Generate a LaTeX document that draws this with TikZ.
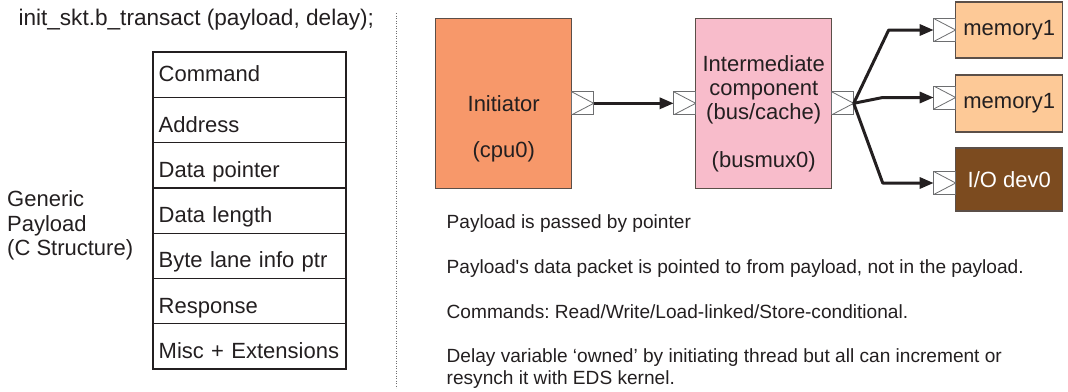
\documentclass[tikz,border=0pt]{standalone}
\usepackage{fontspec}
\setmainfont{Liberation Sans}[Ligatures=TeXOff]
\usetikzlibrary{arrows.meta,positioning,calc}
\definecolor{PLInk}{HTML}{231F20}
\definecolor{PLCpu}{HTML}{F7986A}
\definecolor{PLBus}{HTML}{F8BCCB}
\definecolor{PLMem}{HTML}{FDC997}
\definecolor{PLDev}{HTML}{7C4B1F}
\definecolor{PLEdge}{HTML}{5B4F48}
\definecolor{PLPort}{HTML}{6D6E70}
\newcommand\pltxt{\fontsize{22}{24.4}\selectfont}
\newcommand\plnote{\fontsize{19.1}{21.4}\selectfont}
\frenchspacing

\begin{document}
\begin{tikzpicture}[
  x=1pt,y=-1pt,
  every node/.style={text=PLInk,font=\pltxt},
  field/.style={draw=PLInk,line width=1.2pt,minimum width=193pt,minimum height=45.24pt,text width=181pt,inner xsep=6pt,inner ysep=0pt,outer sep=0pt,align=left,anchor=west,text depth=0pt},
  blk/.style={draw=PLEdge,line width=1.2pt,inner sep=0pt,outer sep=0pt,align=center},
  blklbl/.style={align=center,inner sep=0pt},
  port/.style={draw=PLPort,fill=white,line width=1pt,minimum width=22pt,minimum height=23pt,inner sep=0pt,outer sep=0pt,
    path picture={\draw[PLPort,line width=0.8pt] (path picture bounding box.north west) -- (path picture bounding box.east) -- (path picture bounding box.south west);}},
  arr/.style={-{Triangle[length=14pt,width=11pt]},line width=3pt,draw=PLInk,line join=round},
  note/.style={font=\plnote,anchor=base west,inner sep=0pt,align=left}
]
\useasboundingbox (0,0) rectangle (1068,391);

% left half: the payload structure
\node[anchor=base west,inner sep=0pt,font=\fontsize{22.6}{25}\selectfont] (call) at (18.3,25.5) {init\_skt.b\_transact (payload, delay);};
\foreach \txt/\th [count=\i] in {Command/12.4,Address/24.2,Data pointer/24.2,Data length/24.2,Byte lane info ptr/24.2,Response/24.2,Misc + Extensions/24.2}
  \node[field,text height=\th pt] (fld\i) at (152.7,{52.3+45.24*(\i-0.5)}) {\txt};
\draw[PLInk,line width=2pt] (fld1.north west) rectangle (fld7.south east);
\node[anchor=west,inner sep=0pt,align=left] (gp) at (7,225.6) {Generic\\Payload\\(C Structure)};

% separator
\coordinate (sepTop) at (396.7,13);
\coordinate (sepBot) at (396.7,388);
\draw[PLPort,line width=0.9pt,dash pattern=on 0.9pt off 1.6pt] (sepTop) -- (sepBot);

% right half: the components
\node[blk,fill=PLCpu,minimum width=136pt,minimum height=170pt,label={[blklbl,yshift=-49pt]center:(cpu0)}] (cpu) at (503.7,103.3) {Initiator};
\node[port,anchor=west] (cpuout) at (cpu.east) {};
\node[blk,fill=PLBus,minimum width=136pt,minimum height=170pt,
  label={[blklbl,yshift=13.5pt]center:Intermediate\\component\\(bus/cache)},
  label={[blklbl,yshift=-58.4pt]center:(busmux0)}] (bus) at (763.7,103.3) {};
\node[port,anchor=east] (busin) at (bus.west) {};
\node[port,anchor=west] (busout) at (bus.east) {};
\node[blk,fill=PLMem,minimum width=107pt,minimum height=56pt] (mem0) at (1009.2,30) {memory1};
\node[blk,fill=PLMem,minimum width=107pt,minimum height=57pt] (mem1) at (1009.2,103.5) {memory1};
\node[blk,fill=PLDev,minimum width=107pt,minimum height=63pt,text=white] (iodev) at (1009.2,179.5) {I/O dev0};
\node[port,anchor=east] (mem0in) at (mem0.west) {};
\node[port,anchor=east] (mem1in) at ([yshift=6pt]mem1.west) {};
\node[port,anchor=east] (iodevin) at ([yshift=-3.5pt]iodev.west) {};

\coordinate (fan0) at ([xshift=-45pt]mem0in.west);
\coordinate (fan1) at ([xshift=-51pt]mem1in.west);
\coordinate (fan2) at ([xshift=-51pt]iodevin.west);

\draw[arr] (cpuout.east) -- (busin.west);
\draw[arr] (busout.east) -- (fan0) -- (mem0in.west);
\draw[arr] (busout.east) -- (fan1) -- (mem1in.west);
\draw[arr] (busout.east) -- (fan2) -- (iodevin.west);

% notes
\node[note] (note1) at (446.5,228) {Payload is passed by pointer};
\node[note] (note2) at (446.5,273.5) {Payload's data packet is pointed to from payload, not in the payload.};
\node[note] (note3) at (446.5,318) {Commands: Read/Write/Load-linked/Store-conditional.};
\node[note] (note4) at (446.5,384) {Delay variable ‘owned’ by initiating thread but all can increment or\\resynch it with EDS kernel.};
\end{tikzpicture}
\end{document}
